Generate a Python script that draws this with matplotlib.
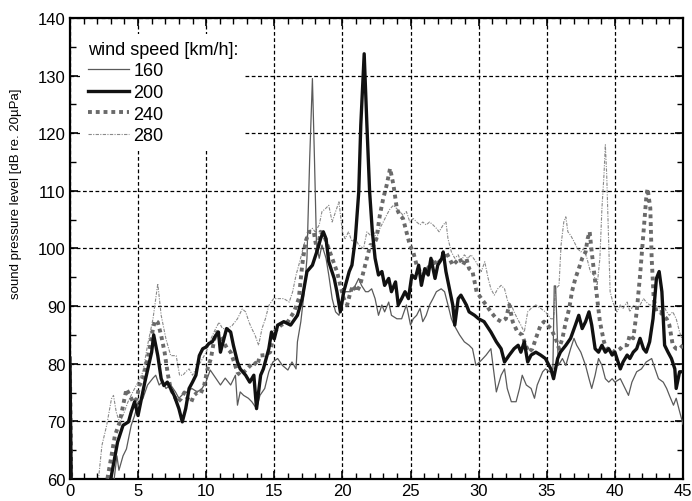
import matplotlib
matplotlib.use("Agg")
import matplotlib.pyplot as plt
from matplotlib.ticker import MultipleLocator

plt.rcParams['font.family'] = ['Liberation Sans', 'DejaVu Sans']

# ---- data (wind speed in km/h) ----
x160 = [0, 0.12, 3.1, 3.25, 3.45, 3.6, 3.9, 4.15, 4.5, 4.75, 5.0, 5.35, 5.7, 6.1, 6.3, 6.55, 6.8, 7.05,
        7.4, 7.75, 8.0, 8.25, 8.6, 8.95, 9.35, 9.7, 10.0, 10.3, 10.7, 11.05, 11.4, 11.8, 12.15, 12.3,
        12.5, 12.75, 13.1, 13.35, 13.7, 13.95, 14.3, 14.6, 14.9, 15.25, 15.6, 16.0, 16.3, 16.6, 16.7,
        16.95, 17.2, 17.4, 17.6, 17.8, 17.95, 18.1, 18.3, 18.5, 18.8, 19.0, 19.25, 19.5, 19.75, 20.0,
        20.2, 20.6, 20.95, 21.2, 21.4, 21.7, 21.9, 22.15, 22.4, 22.65, 22.9, 23.1, 23.4, 23.6, 24.0,
        24.35, 24.7, 25.0, 25.2, 25.45, 25.7, 25.9, 26.15, 26.4, 26.65, 26.9, 27.25, 27.5, 27.75, 28.0,
        28.2, 28.6, 28.95, 29.3, 29.55, 29.8, 30.2, 30.55, 30.9, 31.3, 31.65, 31.9, 32.1, 32.4, 32.75,
        33.0, 33.2, 33.5, 33.85, 34.1, 34.3, 34.7, 34.9, 35.2, 35.45, 35.55, 35.65, 35.85, 36.15, 36.4,
        36.75, 37.0, 37.2, 37.5, 37.85, 38.1, 38.3, 38.55, 38.8, 39.05, 39.3, 39.55, 39.8, 40.0, 40.4,
        40.75, 41.0, 41.25, 41.6, 41.95, 42.3, 42.7, 42.95, 43.2, 43.55, 43.8, 44.0, 44.3, 44.5, 44.75, 45]
y160 = [80, 55, 55, 60, 64, 61.5, 64, 65.2, 69.3, 71, 73.3, 73.9, 76.3, 77.5, 78, 76.3, 76.9, 75.7,
        76.3, 75.1, 74, 74.6, 75.1, 75.7, 75.1, 75.7, 76.9, 78.9, 77.5, 76.3, 77.5, 76.3, 78, 72.8,
        75.1, 74.5, 74, 73.4, 72.2, 74.5, 75.7, 78.6, 80.3, 80.9, 79.7, 78.9, 80.3, 79.1, 83.8,
        87.3, 92.5, 98.3, 115.6, 129.5, 115.6, 100.6, 98.3, 100.6, 98.3, 95.4, 91.3, 89, 88.4, 91.3,
        92.5, 92.5, 93.6, 94.8, 93.6, 92.5, 92.5, 93, 91.3, 88.4, 90.2, 89, 90.7, 88.4, 87.8,
        87.8, 90.2, 86.7, 87.8, 88.4, 89.6, 87.3, 88.4, 90.2, 91.3, 92.5, 93, 92.5, 90.2, 87.8,
        86.7, 85, 83.8, 83.2, 82.6, 79.7, 80.6, 81.5, 82.6, 75.1, 78, 79.1, 75.7, 73.4, 73.4,
        75.7, 78, 76.3, 75.7, 74, 76.3, 78.6, 79.1, 78.6, 79.1, 93.5, 93.5, 79.7, 80.9, 79.7,
        82.6, 84.4, 83.2, 82, 79.7, 77.4, 75.7, 78, 80.9, 79.7, 77.4, 76.8, 77.4, 76.8, 77.4,
        75.7, 74.5, 76.8, 78.6, 79.1, 80.3, 80.9, 79.1, 77.4, 76.8, 75.7, 74.5, 72.8, 74, 71.7, 69.5]

x200 = [0, 0.12, 2.9, 3.0, 3.5, 3.9, 4.3, 4.5, 4.75, 5.0, 5.5, 6.0, 6.15, 6.45, 6.7, 6.9, 7.15, 7.65,
        8.0, 8.25, 8.5, 8.75, 9.0, 9.25, 9.5, 9.75, 10.0, 10.2, 10.45, 10.7, 10.9, 11.05, 11.3, 11.5,
        11.8, 12.0, 12.3, 12.5, 12.9, 13.2, 13.5, 13.7, 14.0, 14.2, 14.6, 14.8, 15.0, 15.25, 15.7,
        16.2, 16.7, 17.05, 17.4, 17.8, 18.2, 18.4, 18.6, 18.8, 19.0, 19.4, 19.6, 19.85, 20.1, 20.5,
        20.7, 20.95, 21.2, 21.35, 21.6, 21.8, 22.0, 22.2, 22.4, 22.65, 22.9, 23.1, 23.4, 23.6, 23.9,
        24.1, 24.35, 24.6, 24.85, 25.1, 25.35, 25.6, 25.8, 26.05, 26.3, 26.5, 26.8, 27.0, 27.3, 27.4,
        27.6, 27.9, 28.1, 28.25, 28.5, 28.7, 29.1, 29.3, 29.7, 30.0, 30.4, 30.9, 31.3, 31.65, 31.9,
        32.25, 32.6, 32.9, 33.1, 33.35, 33.6, 33.85, 34.2, 34.55, 34.9, 35.3, 35.5, 35.8, 36.0, 36.4,
        36.75, 37.1, 37.35, 37.6, 37.85, 38.1, 38.3, 38.55, 38.8, 39.05, 39.3, 39.55, 39.8, 40.0,
        40.4, 40.6, 40.9, 41.1, 41.35, 41.6, 41.85, 42.1, 42.3, 42.55, 42.8, 43.05, 43.25, 43.45,
        43.65, 43.9, 44.15, 44.4, 44.5, 44.75, 45]
y200 = [81, 55, 55, 60, 66.4, 69.3, 69.9, 71.6, 73.4, 71, 76.8, 82, 85, 81.4, 77.4, 76.2, 76.8, 74.5,
        72.2, 69.9, 72.2, 75.7, 76.8, 78, 81.4, 82.6, 82.9, 83.5, 83.8, 84.9, 85.5, 82, 84.3, 86.1,
        85.5, 83.2, 80.3, 79.1, 78, 76.8, 78, 72.2, 78, 79.1, 82.6, 85.5, 84.3, 86.7, 87.3,
        86.7, 88.4, 91.3, 96, 97.1, 100, 101.7, 102.9, 101.7, 97.7, 94.8, 92.5, 89, 92.5, 96,
        97.1, 101.7, 109.8, 121.4, 133.8, 121.4, 109.8, 102.9, 98.3, 95.4, 96, 93.6, 94.8, 92.5, 94.2,
        90.2, 91.3, 92.5, 91.3, 95.4, 94.8, 97.1, 93.6, 96.5, 95.4, 98.3, 94.8, 97.1, 98.3, 99.4,
        96, 92.5, 90.2, 86.7, 91.3, 91.9, 90.2, 89, 88.4, 87.8, 87.3, 85.5, 83.8, 82.6, 80.3,
        81.5, 82.6, 83.2, 82, 83.8, 80.3, 81.5, 82, 81.5, 80.9, 79.1, 77.4, 80.9, 82, 83.2,
        84.4, 86.7, 88.4, 86.1, 87.3, 89, 86.7, 82.6, 82, 83.2, 82, 82.6, 81.5, 82,
        79.1, 80.3, 81.5, 80.9, 82, 82.6, 84.4, 82.6, 82, 83.8, 87.8, 94.8, 96, 92.5,
        83.2, 82, 80.9, 79.1, 75.7, 78.6, 78.6]

x240 = [0, 0.12, 2.6, 2.75, 3.06, 3.3, 3.65, 3.9, 4.15, 4.4, 4.65, 4.9, 5.1, 5.35, 5.6, 5.85, 6.1, 6.25,
        6.45, 6.7, 6.95, 7.2, 7.4, 7.65, 7.9, 8.15, 8.4, 8.65, 8.9, 9.1, 9.35, 9.6, 9.85, 10.1, 10.35,
        10.6, 10.8, 11.05, 11.3, 11.55, 11.8, 12.05, 12.3, 12.5, 12.75, 13.0, 13.25, 13.5, 13.75, 13.95,
        14.3, 14.7, 15.0, 15.5, 16.0, 16.45, 16.8, 17.05, 17.3, 17.55, 17.9, 18.15, 18.4, 18.65, 18.9,
        19.25, 19.6, 19.85, 20.1, 20.35, 20.6, 20.8, 21.05, 21.3, 21.55, 21.8, 22.05, 22.3, 22.5, 22.75,
        23.0, 23.25, 23.5, 23.75, 24.0, 24.2, 24.45, 24.7, 24.95, 25.2, 25.45, 25.7, 25.9, 26.15, 26.4,
        26.65, 26.9, 27.1, 27.4, 27.6, 27.85, 28.1, 28.35, 28.6, 28.85, 29.1, 29.3, 29.55, 29.85, 30.2,
        30.55, 30.9, 31.3, 31.65, 32.0, 32.25, 32.5, 32.85, 33.2, 33.45, 33.7, 33.95, 34.2, 34.55, 34.8,
        35.05, 35.3, 35.65, 35.9, 36.15, 36.4, 36.65, 36.85, 37.1, 37.35, 37.6, 37.85, 38.0, 38.15, 38.3,
        38.5, 38.7, 38.9, 39.2, 39.4, 39.65, 40.0, 40.4, 40.6, 40.9, 41.1, 41.35, 41.6, 41.85, 42.1,
        42.3, 42.4, 42.6, 42.7, 42.85, 43.05, 43.3, 43.55, 43.8, 44.0, 44.25, 44.5, 44.75, 45]
y240 = [80, 55, 55, 60, 64.1, 67.5, 69.8, 72.7, 75.6, 74.5, 73.3, 73.9, 76.2, 77.4, 79.7, 82.6, 86.1, 87.5,
        87.2, 84.9, 82, 78, 75.6, 74.5, 73.3, 73.9, 75, 73.9, 73.3, 74.5, 75, 74.8, 76.2, 79.1, 80.9,
        84.3, 85.5, 84.9, 83.7, 82.6, 82, 80.3, 78.5, 78, 78.5, 79.1, 79.7, 80.3, 79.7, 81.4,
        81.5, 82, 85.5, 86.7, 87.3, 89, 91.3, 97.1, 101.2, 102.9, 102.9, 99.4, 102.9, 102.3, 100.6,
        98.3, 96, 93.6, 91.3, 90.2, 92.5, 93.6, 92.5, 93.6, 96, 98.3, 100.6, 100.6, 101.7, 105.8,
        108.7, 111, 113.9, 111, 106.9, 105.8, 105.2, 102.9, 100.6, 99.4, 97.1, 96, 95.4, 96, 97.1,
        98.3, 97.1, 97.7, 98.3, 99.4, 98.3, 97.1, 97.7, 98.3, 97.1, 98.3, 96.5, 96, 92.5, 91.3,
        90.2, 89, 87.8, 87.3, 87.8, 90.2, 87.3, 85.5, 85, 83.2, 82, 82.6, 84.4, 86.7, 87.3,
        86.7, 86.1, 84.4, 82.6, 84.4, 87.3, 89.6, 92.5, 94.8, 96.5, 98.3, 99.4, 101.7, 102.9, 99.4,
        95.4, 91.3, 87.3, 83.8, 82.6, 82.6, 82, 82.6, 83.2, 83.2, 85, 84.4, 89, 95.4, 102.9,
        108.7, 110.4, 107, 98.3, 91.3, 89, 89, 88.4, 87.8, 86.7, 83.2, 82.6, 82.6, 83.2]

x280 = [0, 0.12, 2.0, 2.1, 2.35, 2.7, 3.05, 3.2, 3.4, 3.65, 3.9, 4.25, 4.6, 5.0, 5.35, 5.7, 6.1, 6.45,
        6.7, 7.05, 7.4, 7.8, 8.05, 8.3, 8.5, 8.75, 9.0, 9.25, 9.6, 10.0, 10.35, 10.7, 10.95, 11.2, 11.55,
        11.9, 12.3, 12.65, 12.9, 13.15, 13.35, 13.6, 13.85, 14.1, 14.35, 14.6, 14.95, 15.25, 15.7, 16.1,
        16.35, 16.6, 16.8, 17.05, 17.3, 17.55, 17.8, 18.0, 18.3, 18.5, 18.75, 19.0, 19.25, 19.5, 19.75,
        20.0, 20.2, 20.45, 20.7, 20.95, 21.2, 21.55, 21.8, 22.05, 22.3, 22.5, 22.75, 23.0, 23.25, 23.5,
        23.75, 24.0, 24.2, 24.45, 24.7, 24.95, 25.2, 25.45, 25.7, 25.9, 26.15, 26.4, 26.65, 26.9, 27.1,
        27.4, 27.6, 27.75, 28.0, 28.25, 28.5, 28.7, 28.95, 29.2, 29.45, 29.8, 30.2, 30.45, 30.7, 30.9,
        31.15, 31.4, 31.65, 31.9, 32.15, 32.4, 32.6, 32.85, 33.1, 33.35, 33.6, 33.85, 34.2, 34.55, 34.9,
        35.3, 35.5, 35.65, 35.9, 36.05, 36.25, 36.4, 36.55, 36.75, 37.0, 37.25, 37.5, 37.7, 37.95, 38.2,
        38.45, 38.7, 38.9, 39.05, 39.2, 39.3, 39.4, 39.55, 39.65, 39.85, 40.15, 40.4, 40.6, 40.9, 41.1,
        41.35, 41.6, 41.85, 42.1, 42.3, 42.55, 42.95, 43.3, 43.55, 43.8, 44.0, 44.25, 44.5, 44.75, 45]
y280 = [79, 55, 55, 60, 65.8, 69.3, 73.9, 74.5, 71.6, 69.8, 71, 73.3, 75, 76.8, 78.5, 83.2, 87.8, 93.9,
        88.4, 84.3, 81.4, 81.4, 78, 78, 78.6, 79.1, 78, 79.1, 80.3, 82, 84.3, 86.1, 87.2, 86.1, 86.1,
        86.6, 87.8, 89.5, 89, 87.2, 86.1, 84.9, 83.2, 86.1, 87.8, 90.1, 91.3, 91.3, 91.3, 90.7,
        92.5, 95.4, 97.1, 99.4, 101.7, 102.9, 103.5, 102.9, 104.1, 106.4, 106.9, 107.5, 104.6, 106.4, 108.1,
        102.9, 101.7, 102.9, 101.2, 101.7, 100.6, 100, 102.9, 102.3, 102.9, 101.7, 103.5, 104.6, 105.8, 106.9,
        107.5, 106.9, 106.4, 105.8, 106.4, 104.6, 105.2, 104.6, 104.1, 104.6, 104.1, 104.6, 104.1, 103.5, 102.9,
        104.1, 104.6, 101.7, 99.4, 98.3, 98.9, 97.7, 98.9, 98.3, 98.9, 97.7, 96, 97.7, 94.8, 93,
        91.9, 93, 93.6, 93, 90.7, 90.2, 89, 87.8, 86.7, 85.5, 89, 89.6, 90.2, 89.6, 89,
        87.8, 87.8, 93, 93.6, 100.6, 104.6, 105.5, 102.9, 102.3, 101.2, 100, 99.4, 100, 98.3, 96,
        95.4, 93.6, 98.3, 107, 112.8, 118, 112.8, 100.6, 92.5, 90.7, 89, 90.2, 89.6, 90.7, 89,
        90.2, 89.6, 90.2, 91.3, 90.7, 90.2, 90.2, 89.6, 90.2, 89, 88.4, 89, 87.8, 85.5, 83.8]

fig = plt.figure(figsize=(6.92, 5.02), dpi=100)
ax = fig.add_axes([0.101, 0.044, 0.886, 0.918])

ax.plot(x280, y280, color="#8a8a8a", lw=0.8, ls=(0, (3, 1.2, 1, 1.2)), label="280", zorder=2)
ax.plot(x160, y160, color="#5a5a5a", lw=0.9, ls="-", label="160", zorder=3)
ax.plot(x240, y240, color="#6a6a6a", lw=2.8, ls=(0, (1, 1)), label="240", zorder=4)
ax.plot(x200, y200, color="#111111", lw=2.4, ls="-", label="200", zorder=5)

ax.set_xlim(0, 45)
ax.set_ylim(60, 140)
ax.xaxis.set_major_locator(MultipleLocator(5))
ax.xaxis.set_minor_locator(MultipleLocator(1))
ax.yaxis.set_major_locator(MultipleLocator(10))
ax.yaxis.set_minor_locator(MultipleLocator(5))
ax.tick_params(which="both", direction="in", top=True, right=True, labelsize=12, pad=3)
ax.tick_params(which="major", length=6, width=1.2)
ax.tick_params(which="minor", length=4, width=1)
ax.grid(True, which="major", color="black", ls=(0, (3, 2)), lw=0.9)
for s in ax.spines.values():
    s.set_linewidth(1.6)

ax.set_ylabel("sound pressure level [dB re. 20µPa]", fontsize=9.5)
ax.yaxis.set_label_coords(-0.078, 0.62)

# legend sits on a white patch that hides the grid behind it
h, l = ax.get_legend_handles_labels()
order = [1, 3, 2, 0]
leg = ax.legend([h[i] for i in order], [l[i] for i in order], title="wind speed [km/h]:",
                loc="upper left", bbox_to_anchor=(0.017, 0.966), frameon=True, fancybox=False,
                facecolor="white", edgecolor="none", framealpha=1, fontsize=13,
                title_fontsize=13, handlelength=2.3, handletextpad=0.25, labelspacing=0.25,
                borderaxespad=0, borderpad=0.4, alignment="left")
leg.set_zorder(10)

fig.savefig("out.png", dpi=100)
